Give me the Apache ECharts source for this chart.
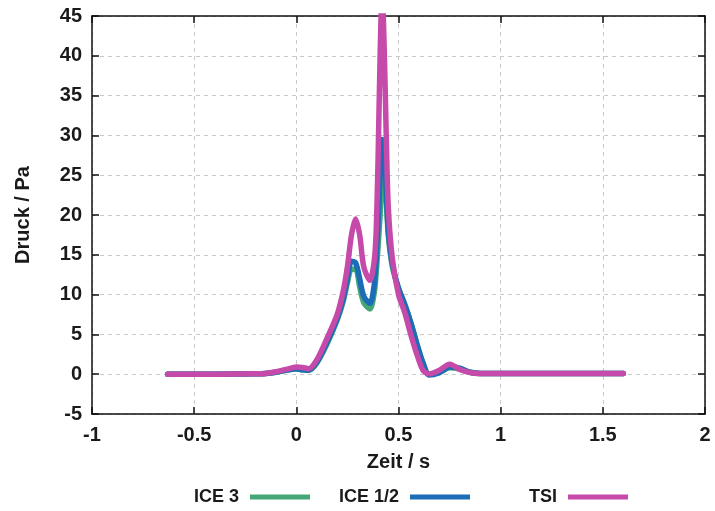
<!DOCTYPE html>
<html>
<head>
<meta charset="utf-8">
<script src="https://cdn.jsdelivr.net/npm/echarts@6/dist/echarts.min.js"></script>
<style>html,body{margin:0;padding:0;background:#fff}#c{width:715px;height:511px}</style>
</head>
<body>
<div id="c"></div>
<script>
const time = [-0.63,-0.4,-0.2,-0.15,-0.1,-0.05,0,0.03,0.06,0.1,0.15,0.2,0.23,0.25,0.27,0.29,0.31,0.33,0.36,0.38,0.39,0.40,0.41,0.42,0.43,0.44,0.45,0.47,0.5,0.53,0.56,0.59,0.62,0.65,0.7,0.75,0.8,0.85,0.9,1.0,1.2,1.4,1.6];
const ice3 = [0,0,0.05,0.1,0.25,0.5,0.7,0.55,0.5,1.4,3.8,6.8,9.2,11.5,13.2,13.2,11,9,8.2,10,12.5,16,20,24,25.5,22,17.5,13.5,10.8,8.8,6.5,3.8,1.4,0,0.2,0.8,0.65,0.25,0.1,0.1,0.1,0.1,0.1];
const ice12 = [0,0,0.05,0.1,0.25,0.5,0.7,0.55,0.5,1.5,4,7,9.5,12,14.2,14,12,9.8,8.9,11,14,19,25,29.5,29,23,18,13.8,10.8,8.8,6.5,3.8,1.4,-0.1,0.2,0.9,0.75,0.25,0.1,0.1,0.1,0.1,0.1];
const tsi = [0,0,0.05,0.1,0.3,0.6,0.9,0.85,0.7,1.8,4.5,7.5,10.5,13.5,17.5,19.5,17.5,13.5,11.8,14,17.5,27,40,48,41,30,21,14.5,10,7.8,5,2.5,0.5,0.05,0.5,1.25,0.6,0.2,0.1,0.1,0.1,0.1,0.1];
const names = ['ICE 3','ICE 1/2','TSI'];
const colors = ['#45a676','#1c6db7','#c64aa9'];
const xTicks = {min:-1,max:2,interval:0.5};
const yTicks = {min:-5,max:45,interval:5};

const font = {fontFamily:'Liberation Sans, Arial, sans-serif',fontWeight:'bold',fontSize:20,color:'#1a1a1a'};
const legendFont = Object.assign({},font,{fontSize:18});
const pairs = arr => time.map((t,i)=>[t,arr[i]]);
const series = [ice3, ice12, tsi].map((arr,i)=>({
  name:names[i], type:'line', data:pairs(arr), showSymbol:false, symbol:'none',
  smooth:0.3, lineStyle:{width:5.5,color:colors[i],cap:'round',join:'round'}, itemStyle:{color:colors[i]}, z:2+i
}));
const axisLine = {show:true,onZero:false,lineStyle:{color:'#111',width:1.5}};
const tick = {show:true,inside:true,length:7,lineStyle:{color:'#111',width:1.5}};
const split = {show:true,lineStyle:{color:'#c8c8c8',type:[4,4],width:1}};
const legendFor = (i,right)=>({
  data:[names[i]], right:right, top:488, padding:0, align:'right', orient:'horizontal',
  itemWidth:60, itemHeight:5, icon:'rect',
  textStyle:Object.assign({},legendFont,{padding:[0,6,0,0]})
});
const chart = echarts.init(document.getElementById('c'));
chart.setOption({
  animation:false,
  backgroundColor:'#fff',
  grid:{left:92,right:10,top:16,bottom:97,containLabel:false},
  xAxis:[
    Object.assign({type:'value',position:'bottom',name:'Zeit / s',nameLocation:'middle',nameGap:38,
      nameTextStyle:font,axisLine,axisTick:tick,splitLine:split,
      axisLabel:Object.assign({},font,{margin:11})},xTicks),
    Object.assign({type:'value',position:'top',axisLine,axisTick:tick,splitLine:{show:false},axisLabel:{show:false}},xTicks)
  ],
  yAxis:[
    Object.assign({type:'value',position:'left',name:'Druck / Pa',nameLocation:'middle',nameGap:59,
      nameTextStyle:font,axisLine,axisTick:tick,splitLine:split,
      axisLabel:Object.assign({},font,{margin:10})},yTicks),
    Object.assign({type:'value',position:'right',axisLine,axisTick:tick,splitLine:{show:false},axisLabel:{show:false}},yTicks)
  ],
  legend:[legendFor(0,405),legendFor(1,245),legendFor(2,87)],
  series
});
</script>
</body>
</html>
